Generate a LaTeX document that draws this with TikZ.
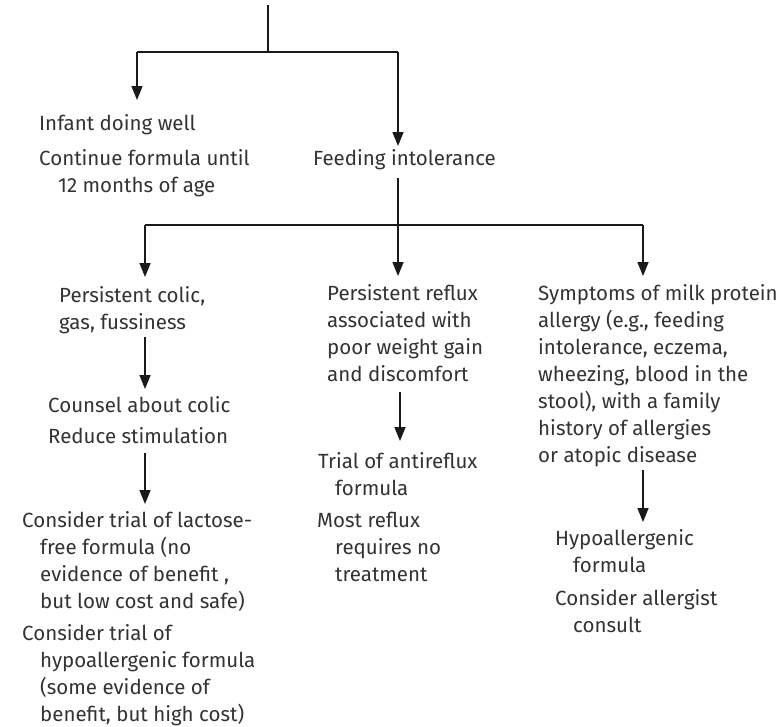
\documentclass[tikz,border=0pt]{standalone}
\usepackage{fontspec}
\setmainfont{Fira Sans}
\usetikzlibrary{arrows.meta}
\definecolor{txtc}{HTML}{333333}
\definecolor{linec}{HTML}{1A1A1A}
\newcommand{\lin}[2][0pt]{\hbox{\hspace*{#1}#2}}
\begin{document}
\begin{tikzpicture}[x=1pt,y=-1pt,
  txt/.style={anchor=base west, inner sep=0pt, font=\fontsize{20.5}{27}\selectfont, text=txtc},
  ln/.style={line width=1.5pt, draw=linec},
  arr/.style={ln, -{Triangle[length=14pt,width=11pt]}}]
\useasboundingbox[fill=white] (0,0) rectangle (781,726);
% text blocks
\node[txt] (well) at (39,130) {Infant doing well};
\node[txt] (cont) at (39,165) {\vtop{\lin{Continue formula until}\lin[19pt]{12 months of age}}};
\node[txt] (feed) at (313,165) {Feeding intolerance};
\node[txt] (colic) at (59,302) {\vtop{\lin{Persistent colic,}\lin{gas, fussiness}}};
\node[txt] (counsel) at (48,412) {Counsel about colic};
\node[txt] (reduce) at (48,443) {Reduce stimulation};
\node[txt] (lact) at (22,527) {\vtop{\lin{Consider trial of lactose-}\lin[18pt]{free formula (no}\lin[18pt]{evidence of benefit ,}\lin[18pt]{but low cost and safe)}}};
\node[txt] (hypf) at (22,640) {\vtop{\lin{Consider trial of}\lin[18pt]{hypoallergenic formula}\lin[18pt]{(some evidence of}\lin[18pt]{benefit, but high cost)}}};
\node[txt] (reflux) at (327,300) {\vtop{\lin{Persistent reflux}\lin{associated with}\lin{poor weight gain}\lin{and discomfort}}};
\node[txt] (anti) at (318,468) {\vtop{\lin{Trial of antireflux}\lin[17pt]{formula}}};
\node[txt] (most) at (317,527) {\vtop{\lin{Most reflux}\lin[18pt]{requires no}\lin[18pt]{treatment}}};
\node[txt] (sympt) at (538,300) {\vtop{\lin{Symptoms of milk protein}\lin{allergy (e.g., feeding}\lin{intolerance, eczema,}\lin{wheezing, blood in the}\lin{stool), with a family}\lin{history of allergies}\lin{or atopic disease}}};
\node[txt] (hypo) at (555,545) {\vtop{\lin{Hypoallergenic}\lin[18pt]{formula}}};
\node[txt] (allerg) at (555,605) {\vtop{\lin{Consider allergist}\lin[18pt]{consult}}};
% connectors
\coordinate (top) at (268,5);
\coordinate (j1) at (268,52);
\coordinate (l1) at (137,52);
\coordinate (r1) at (398,52);
\coordinate (j2) at (398,225);
\coordinate (l2) at (145,225);
\coordinate (r2) at (643,225);
\coordinate (m3) at (400,0);
\draw[ln] (top) -- (j1);
\draw[ln] (l1) -- (r1);
\draw[arr, shorten >=13.8pt] (l1) -- (well.north -| l1);
\draw[arr, shorten >=2.8pt] (r1) -- (feed.north -| r1);
\draw[arr, shorten <=8pt, shorten >=7.8pt] (feed.south -| j2) -- (reflux.north -| j2);
\draw[ln] (l2) -- (r2);
\draw[arr, shorten >=8.8pt] (l2) -- (colic.north -| l2);
\draw[arr, shorten >=7.8pt] (r2) -- (sympt.north -| r2);
\draw[arr, shorten <=3pt, shorten >=6.8pt] (colic.south -| l2) -- (counsel.north -| l2);
\draw[arr, shorten <=10pt, shorten >=6.8pt] (reduce.south -| l2) -- (lact.north -| l2);
\draw[arr, shorten <=11pt, shorten >=10.8pt] (reflux.south -| m3) -- (anti.north -| m3);
\draw[arr, shorten <=3pt, shorten >=6.8pt] (sympt.south -| r2) -- (hypo.north -| r2);
\end{tikzpicture}
\end{document}
